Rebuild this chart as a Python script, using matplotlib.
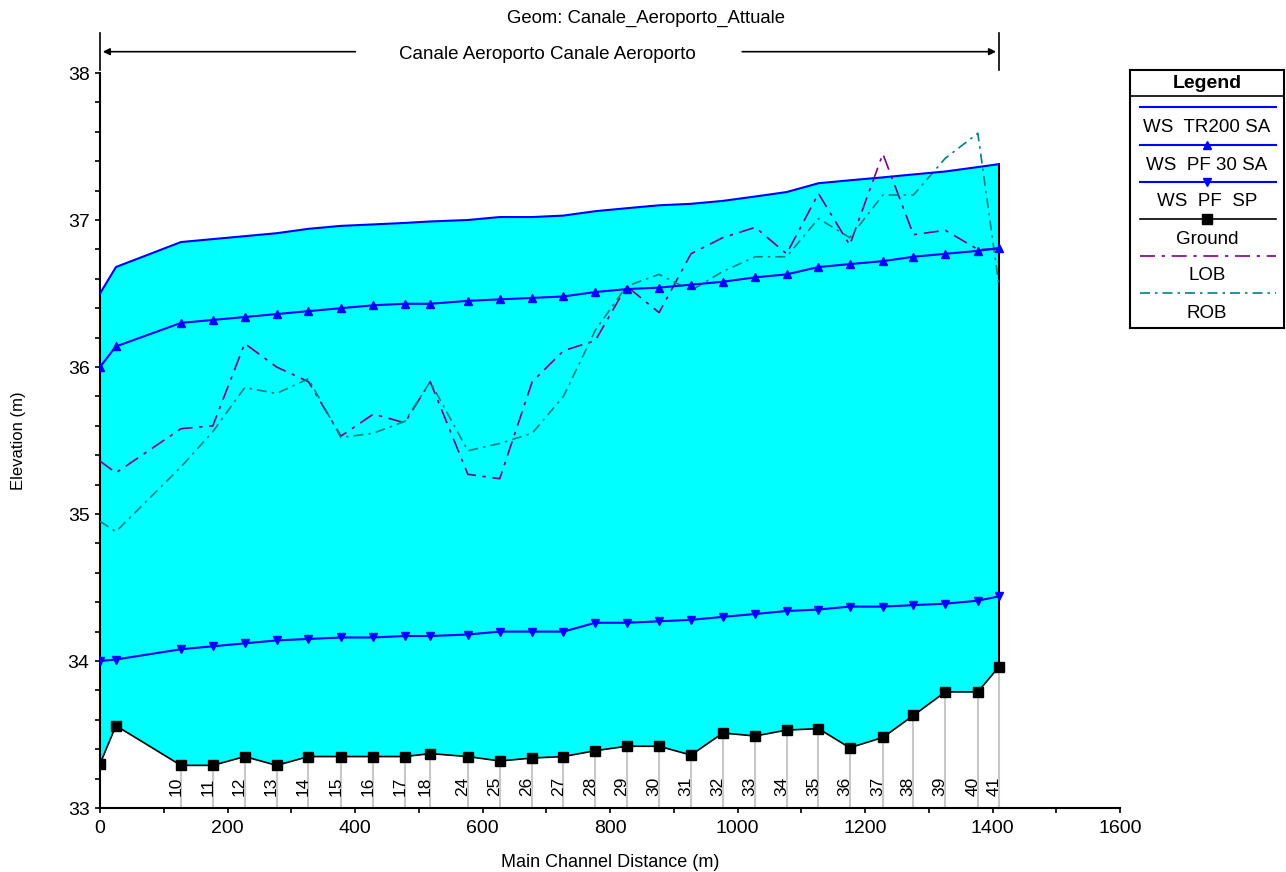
import matplotlib
matplotlib.use("Agg")
import matplotlib.pyplot as plt
from matplotlib.transforms import blended_transform_factory
from matplotlib.ticker import MultipleLocator

plt.rcParams['font.family'] = ['Liberation Sans', 'DejaVu Sans']

## river stations (main channel distance, m) and their labels
dist = [0, 25, 127, 177, 227, 277, 327, 378, 429, 478, 518, 577, 627, 678, 727,
        777, 826, 877, 927, 977, 1028, 1077, 1127, 1176, 1228, 1276, 1326, 1377, 1410]
station = ["", "", "10", "11", "12", "13", "14", "15", "16", "17", "18", "24", "25", "26", "27",
           "28", "29", "30", "31", "32", "33", "34", "35", "36", "37", "38", "39", "40", "41"]

## elevations (m)
ground = [33.30, 33.56, 33.29, 33.29, 33.35, 33.29, 33.35, 33.35, 33.35, 33.35, 33.37, 33.35, 33.32, 33.34, 33.35,
          33.39, 33.42, 33.42, 33.36, 33.51, 33.49, 33.53, 33.54, 33.41, 33.48, 33.63, 33.79, 33.79, 33.96]
ws_tr200 = [36.50, 36.68, 36.85, 36.87, 36.89, 36.91, 36.94, 36.96, 36.97, 36.98, 36.99, 37.00, 37.02, 37.02, 37.03,
            37.06, 37.08, 37.10, 37.11, 37.13, 37.16, 37.19, 37.25, 37.27, 37.29, 37.31, 37.33, 37.36, 37.38]
ws_pf30 = [36.00, 36.14, 36.30, 36.32, 36.34, 36.36, 36.38, 36.40, 36.42, 36.43, 36.43, 36.45, 36.46, 36.47, 36.48,
           36.51, 36.53, 36.54, 36.56, 36.58, 36.61, 36.63, 36.68, 36.70, 36.72, 36.75, 36.77, 36.79, 36.81]
ws_pfsp = [34.00, 34.01, 34.08, 34.10, 34.12, 34.14, 34.15, 34.16, 34.16, 34.17, 34.17, 34.18, 34.20, 34.20, 34.20,
           34.26, 34.26, 34.27, 34.28, 34.30, 34.32, 34.34, 34.35, 34.37, 34.37, 34.38, 34.39, 34.41, 34.44]
lob = [35.36, 35.28, 35.58, 35.60, 36.16, 36.00, 35.90, 35.53, 35.68, 35.62, 35.90, 35.27, 35.24, 35.90, 36.11,
       36.18, 36.55, 36.37, 36.77, 36.88, 36.95, 36.77, 37.18, 36.83, 37.45, 36.90, 36.93, 36.80, 36.80]
rob = [34.95, 34.88, 35.32, 35.56, 35.86, 35.82, 35.92, 35.52, 35.55, 35.63, 35.90, 35.43, 35.48, 35.55, 35.80,
       36.25, 36.55, 36.63, 36.52, 36.65, 36.75, 36.75, 37.01, 36.88, 37.17, 37.17, 37.42, 37.59, 36.56]

legend_names = ["WS  TR200 SA", "WS  PF 30 SA", "WS  PF  SP", "Ground", "LOB", "ROB"]

blue = "#0000FF"
purple = "#800080"
teal = "#008080"

fig = plt.figure(figsize=(12.86, 8.72), dpi=100)
ax = fig.add_axes([100 / 1286, 64 / 872, 1020 / 1286, 735 / 872])

## water fill between ground and highest water surface
ax.fill_between(dist, ground, ws_tr200, color="#00FFFF", lw=0, zorder=1)
ax.plot([dist[-1], dist[-1]], [ground[-1], ws_tr200[-1]], color="black", lw=1.5, zorder=3)

## station lines + labels
for d, g, s in zip(dist, ground, station):
    if s == "":
        continue
    ax.plot([d, d], [33, g], color="#C8C8C8", lw=1.5, zorder=2)
    ax.text(d - 8, 33.085, s, rotation=90, ha="center", va="bottom", fontsize=12.5, zorder=4)

ax.plot(dist, lob, color=purple, lw=1.2, ls=(0, (9, 4, 2, 4)), zorder=3)
ax.plot(dist, rob, color=teal, lw=1.2, ls=(0, (6, 3, 1.5, 3)), zorder=3)
ax.plot(dist, ws_tr200, color=blue, lw=1.5, zorder=5)
ax.plot(dist, ws_pf30, color=blue, lw=1.5, marker="^", ms=6, zorder=5)
ax.plot(dist, ws_pfsp, color=blue, lw=1.5, marker="v", ms=6, zorder=5)
ax.plot(dist, ground, color="black", lw=1.2, marker="s", ms=6.5, zorder=6)

ax.set_xlim(0, 1600)
ax.set_ylim(33, 38)
ax.xaxis.set_major_locator(MultipleLocator(200))
ax.xaxis.set_minor_locator(MultipleLocator(100))
ax.yaxis.set_major_locator(MultipleLocator(1))
ax.yaxis.set_minor_locator(MultipleLocator(0.2))
ax.tick_params(which="both", direction="out", width=1.2, length=3.5, labelsize=14)
ax.tick_params(axis="x", pad=5)
ax.tick_params(axis="y", pad=4)
ax.spines["top"].set_visible(False)
ax.spines["right"].set_visible(False)
ax.spines["left"].set_linewidth(1.5)
ax.spines["bottom"].set_linewidth(1.5)
ax.patch.set_alpha(0)

ax.set_xlabel("Main Channel Distance (m)", fontsize=13)
ax.xaxis.set_label_coords(0.5, -0.063)
ax.set_ylabel("Elevation (m)", fontsize=12, va="center")
ax.yaxis.set_label_coords(-0.080, 0.5)

## reach bracket above the plot
tr = blended_transform_factory(ax.transData, ax.transAxes)
for d in [dist[0], dist[-1]]:
    ax.plot([d, d], [1.004, 1.054], transform=tr, color="black", lw=1.2, clip_on=False)
ax.annotate("", xy=(dist[0], 1.029), xytext=(405, 1.029), xycoords=tr, textcoords=tr,
            arrowprops=dict(arrowstyle="-|>", color="black", lw=1.2, mutation_scale=10))
ax.annotate("", xy=(dist[-1], 1.029), xytext=(1003, 1.029), xycoords=tr, textcoords=tr,
            arrowprops=dict(arrowstyle="-|>", color="black", lw=1.2, mutation_scale=10))
ax.text(702, 1.0245, "Canale Aeroporto Canale Aeroporto", transform=tr,
        ha="center", va="center", fontsize=13.5)

fig.text(0.502, 1 - 18 / 872, "Geom: Canale_Aeroporto_Attuale", ha="center", va="center", fontsize=13.3)

## legend box drawn by hand
lg = fig.add_axes([1130 / 1286, 1 - 328 / 872, 154 / 1286, 258 / 872])
lg.set_xlim(0, 154)
lg.set_ylim(258, 0)
lg.set_xticks([])
lg.set_yticks([])
for sp in lg.spines.values():
    sp.set_linewidth(1.5)
lg.text(77, 13, "Legend", ha="center", va="center", fontsize=14, fontweight="bold")
lg.plot([0, 154], [26, 26], color="black", lw=1.2)
styles = [dict(color=blue, lw=1.5),
          dict(color=blue, lw=1.5, marker="^", ms=6, markevery=[1]),
          dict(color=blue, lw=1.5, marker="v", ms=6, markevery=[1]),
          dict(color="black", lw=1.2, marker="s", ms=6.5, markevery=[1]),
          dict(color=purple, lw=1.2, ls=(0, (9, 4, 2, 4))),
          dict(color=teal, lw=1.2, ls=(0, (6, 3, 1.5, 3)))]
line_y = [37, 75, 112, 149, 186, 223]
for name, st, ly in zip(legend_names, styles, line_y):
    lg.plot([10, 77, 146], [ly, ly, ly], **st)
    lg.text(77, ly + 20, name, ha="center", va="center", fontsize=13.5)

fig.savefig("out.png", dpi=100)
